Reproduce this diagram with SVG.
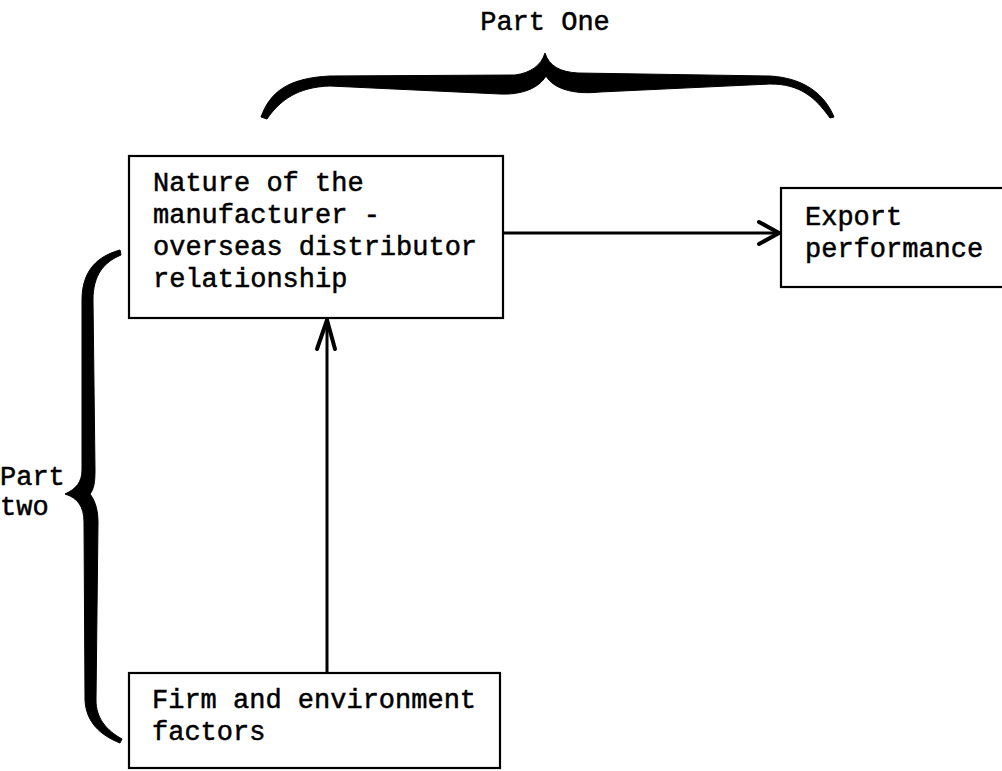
<svg xmlns="http://www.w3.org/2000/svg" width="1002" height="771" viewBox="0 0 1002 771">
  <style>
    .box { fill: #fff; stroke: #000; stroke-width: 2.2; }
    .lbl { font-family: "Liberation Mono", "Courier New", monospace; font-size: 27px; fill: #000; stroke: #000; stroke-width: 0.5; }
    .edge { fill: none; stroke: #000; stroke-width: 3; }
    .head { fill: none; stroke: #000; stroke-width: 4; stroke-linecap: round; stroke-linejoin: miter; }
    .brace { fill: #000; stroke: #000; stroke-width: 1; stroke-linejoin: round; }
  </style>
  <rect width="1002" height="771" fill="#fff"/>

  <!-- Part One brace spanning the relationship and performance -->
  <g id="brace-part-one">
    <path class="brace" d="M 261 117 C 270 92 288 78 330 76 L 515 75 C 530 73 541 66 545 53 C 549 66 560 72 578 73 L 770 76 C 805 78 825 95 834 117 L 830 118 C 815 97 800 84 770 84 L 600 92 C 572 95 553 88 546 76 C 539 88 522 95 500 94 L 330 86 C 298 87 280 100 267 119 Z"/>
    <text class="lbl" x="545" y="30" text-anchor="middle">Part One</text>
  </g>

  <!-- Part two brace along the left side -->
  <g id="brace-part-two">
    <path class="brace" d="M 120 250 C 98 256 82 270 82 300 L 82 470 C 82 482 76 489 65 494 C 78 498 84 507 84 522 L 85 700 C 86 722 100 735 120 743 L 122 739 C 106 730 96 718 96 700 L 98 522 C 98 506 93 498 90 494 C 94 489 95 482 95 470 L 93 300 C 93 275 104 262 121 255 Z"/>
    <text class="lbl" x="0" y="485">Part</text>
    <text class="lbl" x="0" y="515">two</text>
  </g>

  <!-- Connectors -->
  <g id="connectors">
    <line class="edge" x1="503" y1="233" x2="780" y2="233"/>
    <polyline class="head" points="759,222 779,233 759,244"/>
    <line class="edge" x1="327" y1="673" x2="327" y2="320"/>
    <polyline class="head" points="317,349 327,320 335,349"/>
  </g>

  <g id="node-relationship">
    <rect class="box" x="129" y="156" width="374" height="162"/>
    <text class="lbl" x="153" y="191">Nature of the</text>
    <text class="lbl" x="153" y="223">manufacturer -</text>
    <text class="lbl" x="153" y="255">overseas distributor</text>
    <text class="lbl" x="153" y="287">relationship</text>
  </g>

  <g id="node-export-performance">
    <rect class="box" x="781" y="188" width="230" height="99"/>
    <text class="lbl" x="805" y="225">Export</text>
    <text class="lbl" x="805" y="257">performance</text>
  </g>

  <g id="node-firm-environment">
    <rect class="box" x="129" y="673" width="371" height="95"/>
    <text class="lbl" x="152" y="708">Firm and environment</text>
    <text class="lbl" x="152" y="740">factors</text>
  </g>
</svg>
